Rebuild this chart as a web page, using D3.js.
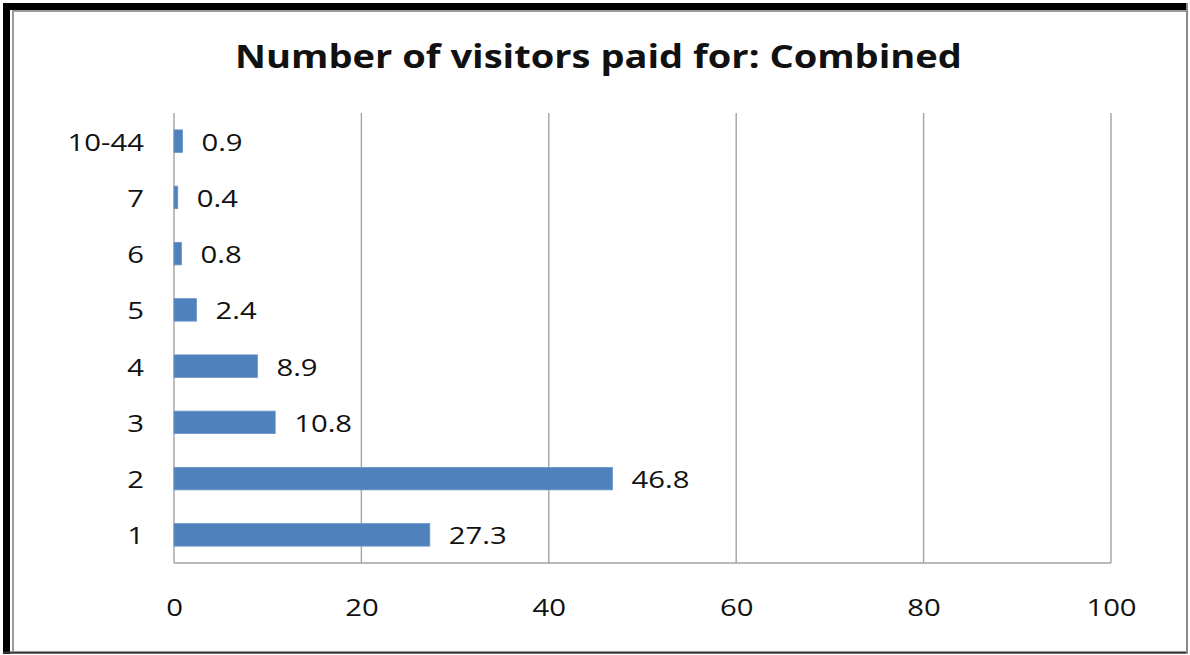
<!DOCTYPE html>
<html>
<head>
<meta charset="utf-8">
<script src="https://cdn.jsdelivr.net/npm/d3@7"></script>
<style>
  html, body { margin: 0; padding: 0; background: #fff; }
  svg { display: block; }
  text { font-family: "Open Sans", "DejaVu Sans", sans-serif; fill: #111; }
</style>
</head>
<body>
<svg id="chart" width="1190" height="655"></svg>
<script>
// Number of visitors each respondent paid for (percent of respondents)
const categories = ["10-44", "7", "6", "5", "4", "3", "2", "1"];
const values = [0.9, 0.4, 0.8, 2.4, 8.9, 10.8, 46.8, 27.3];
const xTicks = [0, 20, 40, 60, 80, 100];
const title = "Number of visitors paid for: Combined";

const W = 1190, H = 655;
const plot = { left: 174, right: 1111, top: 113, bottom: 563 };
const stretch = 1.22;          // wide lettering of the labels
const titleStretch = 1.19;
const gridColor = "#a3a3a3";
const barColor = "#4f81bd";

const svg = d3.select("#chart");

// chart frame: heavy black edge at top/left, thin grey edge inside
const frame = svg.append("g");
frame.append("rect").attr("x", 0).attr("y", 0).attr("width", W).attr("height", H).attr("fill", "#fff");
frame.append("rect").attr("x", 3).attr("y", 3).attr("width", 7).attr("height", 651).attr("fill", "#000");
frame.append("rect").attr("x", 3).attr("y", 3).attr("width", 1185).attr("height", 7).attr("fill", "#000");
frame.append("rect").attr("x", 3).attr("y", 651.5).attr("width", 1185).attr("height", 2.2).attr("fill", "#333");
frame.append("rect").attr("x", 1186).attr("y", 3).attr("width", 2).attr("height", 651).attr("fill", "#8a8a8a");
frame.append("rect").attr("x", 12).attr("y", 10).attr("width", 2).attr("height", 642).attr("fill", "#9a9a9a");
frame.append("rect").attr("x", 12).attr("y", 10).attr("width", 1174).attr("height", 2).attr("fill", "#9a9a9a");

const x = d3.scaleLinear().domain([0, 100]).range([plot.left, plot.right]);
const y = d3.scaleBand().domain(categories)
  .range([plot.top, plot.bottom]).paddingInner(0.6).paddingOuter(0.3);

function stretchedText(sel, px, py, sx = stretch) {
  return sel.attr("x", 0).attr("y", 0)
    .attr("transform", `translate(${px},${py}) scale(${sx},1)`);
}

// vertical gridlines
svg.append("g").selectAll("line").data(xTicks).join("line")
  .attr("x1", d => x(d)).attr("x2", d => x(d))
  .attr("y1", plot.top).attr("y2", plot.bottom)
  .attr("stroke", gridColor).attr("stroke-width", 1.4);

// bottom edge of the plot area
svg.append("line")
  .attr("x1", plot.left).attr("x2", plot.right)
  .attr("y1", plot.bottom).attr("y2", plot.bottom)
  .attr("stroke", gridColor).attr("stroke-width", 1.6);

// x axis labels
const xAxis = svg.append("g")
  .attr("transform", `translate(0,${plot.bottom})`)
  .call(d3.axisBottom(x).tickValues(xTicks).tickSize(0).tickFormat(d3.format("d")));
xAxis.select(".domain").remove();
xAxis.selectAll(".tick text").each(function () {
  stretchedText(d3.select(this), 0, 53)
    .attr("dy", null)
    .attr("text-anchor", "middle")
    .style("font-size", "24px")
    .style("font-family", "'Open Sans', sans-serif")
    .attr("fill", "#111");
});

// y axis labels
const yAxis = svg.append("g")
  .attr("transform", `translate(${plot.left},0)`)
  .call(d3.axisLeft(y).tickSize(0));
yAxis.select(".domain").remove();
yAxis.selectAll(".tick text").each(function () {
  stretchedText(d3.select(this), -30, 9.5)
    .attr("dy", null)
    .attr("text-anchor", "end")
    .style("font-size", "24px")
    .style("font-family", "'Open Sans', sans-serif")
    .attr("fill", "#111");
});

// bars
const rows = categories.map((c, i) => ({ cat: c, val: values[i] }));
svg.append("g").selectAll("rect").data(rows).join("rect")
  .attr("x", x(0))
  .attr("y", d => y(d.cat))
  .attr("width", d => x(d.val) - x(0))
  .attr("height", y.bandwidth())
  .attr("fill", barColor)
  .attr("stroke", "#6a95c8").attr("stroke-width", 0.8);

// value labels
svg.append("g").selectAll("text").data(rows).join("text")
  .each(function (d) {
    stretchedText(d3.select(this), x(d.val) + 19, y(d.cat) + y.bandwidth() / 2 + 9.5);
  })
  .style("font-size", "24px")
  .text(d => d3.format(".1f")(d.val));

// title
stretchedText(svg.append("text"), 598.5, 68, titleStretch)
  .attr("text-anchor", "middle")
  .style("font-size", "32px")
  .style("font-weight", "bold")
  .attr("fill", "#000")
  .text(title);
</script>
</body>
</html>
